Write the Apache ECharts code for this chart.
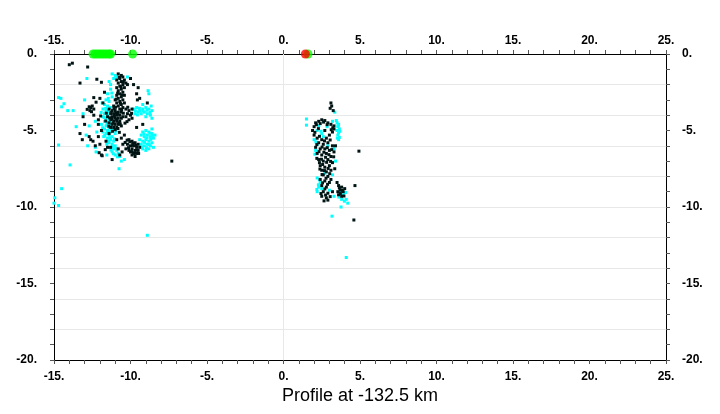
<!DOCTYPE html>
<html><head><meta charset="utf-8">
<script src="https://cdn.jsdelivr.net/npm/echarts@6/dist/echarts.min.js"></script>
<style>html,body{margin:0;padding:0;background:#fff}#c{width:720px;height:414px}</style>
</head><body><div id="c"></div>
<script>
const xTicks = [-15, -10, -5, 0, 5, 10, 15, 20, 25];
const yTicks = [0, -5, -10, -15, -20];
const vLines = [0];

const leftBlack = [
[-14.0,-0.7],[-13.8,-0.6],[-12.8,-0.85],[-13.3,-1.9],[-12.2,-1.65],[-11.9,-1.85],
[-10.8,-1.3],[-10.6,-1.4],[-10.5,-1.5],[-10.7,-1.6],[-10.9,-1.7],[-10.4,-1.7],[-10.6,-1.8],[-10.3,-1.9],[-10.8,-1.9],[-10.5,-2.0],[-10.7,-2.1],[-10.2,-2.0],[-10.9,-2.2],[-10.4,-2.2],[-10.0,-1.6],[-9.8,-2.0],
[-10.6,-2.3],[-10.8,-2.4],[-10.5,-2.5],[-10.7,-2.6],[-10.9,-2.7],[-10.6,-2.8],[-10.8,-2.9],[-10.5,-3.0],[-10.7,-3.1],[-11.0,-3.0],[-10.9,-3.2],[-10.6,-3.3],[-11.1,-3.4],[-10.8,-3.4],[-10.5,-3.5],[-10.7,-3.6],[-10.4,-2.7],[-10.4,-3.2],
[-11.4,-3.6],[-11.2,-3.7],[-11.0,-3.7],[-10.8,-3.8],[-10.6,-3.8],[-11.3,-3.9],[-11.1,-3.9],[-10.9,-4.0],[-10.7,-4.0],[-11.5,-4.1],[-11.2,-4.1],[-11.0,-4.2],[-10.8,-4.2],[-10.6,-4.2],[-11.3,-4.3],[-11.1,-4.4],[-10.9,-4.4],[-10.7,-4.4],[-11.4,-4.5],[-11.2,-4.6],[-11.0,-4.6],[-10.8,-4.6],[-11.1,-4.8],[-10.9,-4.8],[-10.6,-4.7],[-11.3,-4.8],[-11.0,-4.95],[-10.5,-4.1],[-11.2,-4.25],[-10.95,-3.85],[-10.75,-4.5],[-11.05,-4.05],
[-10.73,-1.52],[-10.47,-1.83],[-10.62,-2.14],[-10.84,-2.56],[-10.56,-2.68],[-10.93,-2.95],[-10.66,-3.22],[-10.98,-3.48],[-10.58,-3.63],[-11.27,-3.82],[-10.83,-3.93],[-11.36,-4.17],[-10.91,-4.27],[-11.15,-4.52],[-10.67,-4.58],[-11.42,-4.72],[-10.82,-4.87],[-11.18,-5.05],[-10.73,-5.12],[-11.08,-3.57],[-10.47,-3.87],[-10.36,-4.52],[-10.18,-3.48],[-9.93,-3.88],[-10.23,-4.42],[-11.58,-3.87],[-11.62,-4.38],
[-10.3,-3.6],[-10.1,-3.7],[-9.9,-3.6],[-10.2,-3.9],[-10.0,-4.0],[-10.3,-4.1],[-9.9,-4.2],[-10.1,-4.3],
[-9.5,-2.2],[-9.6,-2.6],[-9.4,-2.9],[-9.55,-3.0],[-9.2,-4.6],[-9.6,-4.8],[-8.9,-3.2],
[-12.7,-3.45],[-12.6,-3.5],[-12.5,-3.4],[-12.65,-3.7],[-12.4,-3.6],[-13.1,-4.1],[-12.4,-4.0],[-12.1,-4.3],[-11.8,-3.2],[-12.0,-2.9],[-12.4,-2.85],[-11.7,-2.5],[-12.1,-4.6],[-11.9,-5.0],
[-12.83,-3.62],[-12.55,-3.77],[-13.3,-5.2],[-12.45,-5.7],[-11.95,-4.05],[-12.25,-3.15],[-11.65,-6.25],[-12.05,-6.45],[-13.0,-4.6],
[-13.15,-5.6],[-12.7,-5.4],[-12.6,-5.6],[-12.1,-5.4],[-12.3,-6.0],[-11.85,-6.65],[-11.9,-6.6],[-11.5,-6.1],[-11.3,-6.1],[-10.7,-6.6],[-10.9,-5.6],[-10.6,-5.5],[-10.4,-5.3],[-11.6,-5.7],[-12.0,-5.9],[-11.4,-5.2],[-10.8,-6.2],[-11.2,-6.9],
[-10.1,-5.6],[-9.9,-5.7],[-9.7,-5.8],[-10.2,-5.9],[-10.0,-6.0],[-9.8,-6.0],[-9.6,-6.1],[-9.9,-6.2],[-9.7,-6.3],[-9.5,-6.3],[-10.0,-6.4],[-9.8,-6.5],[-9.6,-6.5],[-9.9,-6.6],[-9.5,-5.9],[-9.4,-6.1],[-10.3,-6.2],[-9.7,-6.7],[-10.1,-6.3],[-9.85,-5.9],
[-10.04,-5.74],[-9.83,-5.82],[-9.64,-5.97],[-10.13,-6.12],[-9.92,-6.38],[-9.74,-6.46],[-9.58,-6.28],[-10.22,-5.63],[-9.47,-6.5],[-10.35,-5.78],[-10.5,-5.9],[-10.55,-6.4],
[-7.3,-7.0]
];

const leftCyan = [
[-11.2,-1.3],[-11.0,-1.4],[-10.9,-1.5],[-11.1,-1.6],[-10.2,-1.5],[-11.4,-1.8],[-11.3,-2.0],
[-11.3,-2.3],[-11.5,-2.6],[-11.2,-2.8],[-11.6,-3.0],[-11.4,-3.1],[-11.7,-3.3],[-11.5,-3.4],[-11.3,-3.5],[-11.8,-3.6],[-11.6,-3.7],[-11.4,-3.8],[-11.7,-3.9],[-11.5,-4.0],[-11.8,-4.1],[-11.6,-4.2],[-11.4,-4.3],[-11.7,-4.4],[-11.5,-4.5],[-11.3,-4.6],[-11.6,-4.7],[-11.4,-4.8],[-11.7,-4.9],[-11.5,-5.0],[-11.3,-5.1],[-11.6,-5.2],[-11.4,-5.3],[-11.2,-5.4],[-11.5,-5.5],[-11.3,-5.6],[-11.1,-5.7],[-11.4,-5.8],[-11.2,-5.9],[-11.0,-6.0],[-11.3,-6.1],[-11.1,-6.2],[-10.9,-6.3],[-11.2,-6.4],[-10.8,-6.5],[-11.0,-6.6],[-10.7,-6.7],[-11.9,-4.6],[-11.8,-5.1],[-11.0,-5.2],[-10.95,-5.0],[-11.85,-3.2],[-11.1,-4.9],[-11.75,-5.4],[-11.55,-5.9],
[-11.62,-3.55],[-11.48,-3.72],[-11.72,-4.15],[-11.38,-4.42],[-11.55,-4.62],[-11.82,-4.82],[-11.25,-4.95],[-11.48,-5.18],[-11.68,-5.32],[-11.32,-5.48],[-11.05,-5.55],[-11.42,-5.68],[-11.18,-6.05],[-10.95,-6.18],[-11.28,-6.28],[-11.12,-6.52],[-10.85,-6.72],[-11.92,-3.82],[-11.22,-2.55],[-11.45,-2.9],
[-9.8,-3.6],[-9.6,-3.5],[-9.4,-3.7],[-9.2,-3.6],[-9.0,-3.5],[-8.8,-3.6],[-8.6,-3.7],[-9.7,-3.9],[-9.5,-3.8],[-9.3,-3.9],[-9.1,-3.8],[-8.9,-3.9],[-8.7,-4.0],[-8.65,-3.4],[-8.85,-2.4],[-8.8,-2.6],[-9.0,-4.1],[-8.6,-4.2],[-9.2,-3.3],
[-9.68,-3.72],[-9.42,-3.55],[-9.18,-3.72],[-8.92,-3.68],[-8.72,-3.82],[-9.55,-3.98],
[-9.2,-5.1],[-9.0,-5.0],[-8.8,-5.1],[-8.6,-5.2],[-9.3,-5.3],[-9.1,-5.4],[-8.9,-5.3],[-8.7,-5.4],[-8.5,-5.5],[-9.4,-5.6],[-9.2,-5.7],[-9.0,-5.6],[-8.8,-5.7],[-8.6,-5.8],[-9.3,-5.9],[-9.1,-6.0],[-8.9,-5.9],[-8.7,-6.0],[-8.5,-6.1],[-9.2,-6.2],[-9.0,-6.3],[-8.8,-6.2],[-8.4,-5.3],[-8.6,-4.9],
[-9.12,-5.22],[-8.92,-5.48],[-8.68,-5.58],[-9.08,-5.78],[-8.78,-5.92],[-8.55,-5.32],[-9.25,-6.08],[-8.95,-6.12],[-8.72,-5.18],
[-12.85,-1.6],[-13.0,-3.0],[-14.35,-3.25],[-14.55,-2.9],[-14.7,-2.85],[-14.1,-3.7],[-13.75,-3.7],[-14.5,-3.45],[-13.55,-4.75],[-13.1,-3.9],[-12.7,-4.7],[-12.3,-4.4],[-12.8,-6.0],[-12.3,-6.1],[-12.25,-6.4],[-11.55,-6.6],[-14.7,-5.95],[-13.95,-7.25],[-10.75,-7.5],[-14.95,-9.4],[-14.7,-9.9],[-15.0,-9.75],[-14.5,-8.8],[-8.9,-11.85],[-12.9,-5.3],[-12.2,-5.1],[-10.4,-6.9],[-10.6,-7.0]
];

const rightBlack = [
[3.1,-3.2],[3.15,-3.4],[3.05,-3.55],[3.25,-3.7],
[2.1,-4.5],[2.3,-4.4],[2.5,-4.3],[2.7,-4.35],[2.9,-4.5],[3.1,-4.6],[3.3,-4.7],[2.0,-4.75],[1.9,-5.0],[2.0,-5.3],[2.2,-5.5],[2.5,-5.6],[2.8,-5.5],[3.0,-5.3],[3.2,-5.1],[3.3,-4.9],[2.7,-5.0],[2.4,-4.55],
[2.15,-4.62],[2.62,-4.45],[2.85,-4.62],[3.22,-4.82],[2.05,-5.12],[2.35,-5.38],[2.68,-5.68],[3.05,-5.62],[2.28,-4.88],[3.12,-4.95],
[2.3,-5.8],[2.6,-5.9],[2.9,-5.8],[3.2,-6.0],[2.1,-6.1],[2.4,-6.2],[2.7,-6.2],[3.0,-6.3],[3.3,-6.4],[2.2,-6.5],[2.5,-6.6],[2.8,-6.5],[3.1,-6.7],[2.3,-6.9],[2.6,-7.0],[2.9,-6.9],[3.2,-7.1],[2.4,-7.3],[2.7,-7.4],[3.0,-7.3],[2.5,-7.6],[2.8,-7.7],[3.1,-7.6],[2.6,-7.9],[2.9,-8.0],[2.35,-7.1],[2.75,-6.75],[3.35,-7.5],[3.4,-6.0],
[2.18,-5.92],[2.52,-6.08],[2.86,-6.12],[3.15,-6.25],[2.32,-6.38],[2.64,-6.42],[2.97,-6.58],[3.28,-6.72],[2.18,-6.82],[2.48,-6.88],[2.82,-7.08],[3.08,-7.02],[2.56,-7.22],[2.92,-7.48],[2.38,-7.52],[2.68,-7.62],[3.02,-7.82],[2.52,-7.88],
[2.4,-8.2],[2.7,-8.3],[3.0,-8.4],[2.5,-8.6],[2.8,-8.7],[2.6,-9.0],[2.9,-9.1],[2.5,-9.3],[2.8,-9.4],[2.65,-9.6],[3.6,-8.6],[3.8,-8.7],[3.7,-8.9],[3.9,-9.0],[3.6,-9.2],[3.8,-9.3],[4.0,-8.8],[3.5,-8.4],[3.2,-9.0],
[2.78,-8.12],[3.1,-8.2],[2.55,-8.42],[2.88,-8.52],[2.7,-8.82],[2.45,-9.12],[2.75,-9.22],[3.05,-9.32],[2.9,-9.55],[3.65,-8.75],[3.85,-8.92],[3.72,-9.12],[3.95,-9.28],[3.55,-9.0],
[4.93,-6.35],[4.67,-8.6],[4.6,-10.85]
];

const rightCyan = [
[3.35,-3.8],[1.5,-4.25],[1.5,-4.65],
[3.5,-4.5],[3.6,-4.6],[3.55,-4.75],[3.65,-4.9],[3.5,-5.0],[3.6,-5.15],[3.55,-5.3],[3.65,-5.45],[3.6,-5.6],[3.2,-4.4],
[3.45,-4.35],[3.58,-4.68],[3.68,-5.05],[3.52,-5.5],[2.12,-5.75],[2.05,-6.55],[2.35,-8.22],[2.28,-8.55],[2.18,-8.85],[3.62,-9.35],[3.98,-9.62],[4.05,-9.05],[2.45,-5.05],[2.85,-4.75],
[2.3,-4.7],[2.2,-5.0],[2.5,-5.2],[2.0,-5.6],[2.2,-5.9],[2.1,-6.3],[2.9,-6.0],[3.3,-6.2],[3.4,-7.0],[2.7,-7.8],[3.2,-7.9],[2.2,-8.1],[2.4,-8.4],[2.3,-8.7],[2.2,-9.0],[2.5,-8.8],[3.7,-9.0],[3.9,-9.2],[4.1,-9.5],[4.2,-9.75],[3.8,-9.5],[3.3,-9.3],[3.76,-10.0],[3.17,-10.6],[4.1,-13.3],[2.6,-5.4],[3.0,-8.9]
];

const greenPts = [[-12.45,0],[-12.3,0],[-12.15,0],[-12.0,0],[-11.85,0],[-11.7,0],[-11.55,0],[-11.4,0],[-11.3,0],[-9.86,0],[1.6,0]];
const redPts = [[1.43,0]];

const fmt = v => v + '.';
const lblFont = {fontFamily:'Liberation Sans, Arial, sans-serif', fontWeight:'bold', fontSize:12, color:'#000'};
const lineCol = '#000';

function xAx(pos, margin){
  return {type:'value', position:pos, min:-15, max:25, interval:5,
    axisLine:{show:true, onZero:false, lineStyle:{color:lineCol, width:1}},
    axisTick:{show:true, length:4, lineStyle:{color:'#555'}},
    minorTick:{show:true, splitNumber:5, length:4, lineStyle:{color:'#555'}},
    splitLine:{show:false},
    axisLabel:Object.assign({formatter:fmt, margin:margin}, lblFont)};
}
function yAx(pos, margin){
  return {type:'value', position:pos, min:-20, max:0, interval:5,
    axisLine:{show:true, onZero:false, lineStyle:{color:lineCol, width:1}},
    axisTick:{show:true, length:4, lineStyle:{color:'#555'}},
    minorTick:{show:true, splitNumber:5, length:4, lineStyle:{color:'#555'}},
    splitLine:{show:false},
    axisLabel:Object.assign({formatter:fmt, margin:margin}, lblFont)};
}

const chart = echarts.init(document.getElementById('c'), null, {renderer:'canvas'});
const sym = (data, color, z) => ({type:'scatter', data:data, symbol:'rect', symbolSize:3,
  itemStyle:{color:color, opacity:1}, z:z, animation:false, silent:true});

chart.setOption({
  animation:false,
  backgroundColor:'#fff',
  title:{text:'Profile at -132.5 km', left:'center', top:382,
    textStyle:{fontFamily:'Liberation Sans, Arial, sans-serif', fontWeight:'normal', fontSize:18, color:'#000'}},
  grid:{left:54, right:54, top:54, bottom:54},
  xAxis:[xAx('bottom', 11), xAx('top', 7)],
  yAxis:[yAx('left', 17), yAx('right', 16),
    {type:'value', min:-20, max:0, interval:2, position:'left', show:true,
     axisLine:{show:false}, axisTick:{show:false}, axisLabel:{show:false},
     splitLine:{show:true, lineStyle:{color:'#e8e8e8', width:1}}}],
  series:[
    Object.assign(sym(leftCyan, '#00ffff', 2), {
      markLine:{silent:true, symbol:'none', label:{show:false}, animation:false,
        lineStyle:{color:'#e8e8e8', type:'solid', width:1},
        data:vLines.map(v => ({xAxis:v}))}}),
    sym(rightCyan, '#00ffff', 2),
    sym(leftBlack, '#001414', 3),
    sym(rightBlack, '#001414', 3),
    {type:'scatter', data:greenPts, symbol:'circle', symbolSize:9, clip:false,
     itemStyle:{color:'#00ff00'}, z:10, animation:false},
    {type:'scatter', data:redPts, symbol:'circle', symbolSize:9, clip:false,
     itemStyle:{color:'#ff0000'}, z:11, animation:false}
  ]
});
</script></body></html>
